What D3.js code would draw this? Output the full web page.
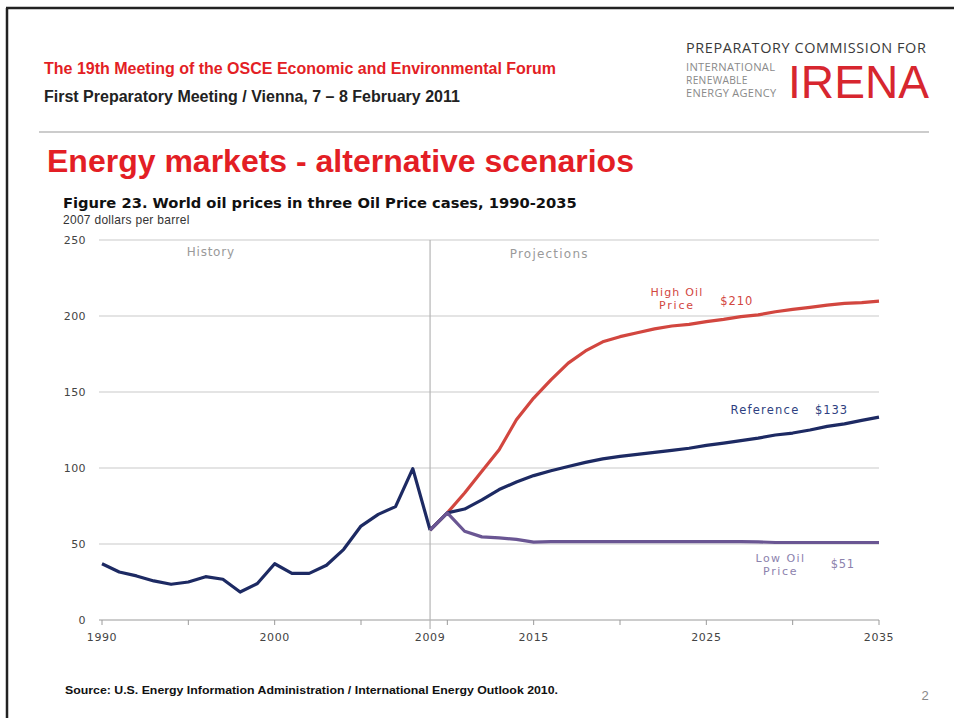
<!DOCTYPE html>
<html><head><meta charset="utf-8">
<script src="https://cdn.jsdelivr.net/npm/d3@7"></script>
<style>
html,body{margin:0;padding:0;background:#fff;}
svg{display:block;}
</style></head>
<body>
<script>
// ---------- data ----------
const historyYears = [1990,1991,1992,1993,1994,1995,1996,1997,1998,1999,2000,2001,2002,2003,2004,2005,2006,2007,2008,2009];
const historyValues = [37,31.6,29,25.7,23.5,25,28.5,26.8,18.4,24,37,30.7,30.7,36,46.5,61.8,69.5,74.6,99.6,59.2];
const projectionYears = [2009,2010,2011,2012,2013,2014,2015,2016,2017,2018,2019,2020,2021,2022,2023,2024,2025,2026,2027,2028,2029,2030,2031,2032,2033,2034,2035];
const highValues = [59.2,70.5,83.6,97.8,112,131.7,146,158,169,177,183,186.4,189,191.5,193.4,194.5,196.3,197.8,199.6,200.7,202.8,204.4,205.7,207.2,208.3,208.8,209.8];
const referenceValues = [59.2,70.5,73,79,85.8,90.8,95,98.2,101,103.7,106,107.7,109,110.3,111.6,113,114.9,116.4,118,119.7,121.7,123,125,127.4,129,131.3,133.5];
const lowValues = [59.2,70.5,58.4,54.7,54,53,51.2,51.6,51.6,51.6,51.6,51.6,51.6,51.6,51.6,51.6,51.6,51.6,51.6,51.4,51,51,51,51,51,51,51];
const yTicks = [0,50,100,150,200,250];
const xTickYears = [1990,1995,2000,2005,2010,2015,2020,2025,2030,2035];
const xLabelYears = [1990,2000,2009,2015,2025,2035];

const W = 954, H = 718;
const svg = d3.select("body").append("svg").attr("width", W).attr("height", H);

function fit(sel, width) {
  const node = sel.node();
  const fs = parseFloat(sel.attr("font-size"));
  const len = node.getComputedTextLength();
  if (len > 0) sel.attr("font-size", (fs * width / len).toFixed(2));
  return sel;
}
function fitSpacing(sel, width) {
  sel.attr("letter-spacing", 0);
  const len = sel.node().getComputedTextLength();
  const n = sel.text().length;
  if (len > 0 && n > 1) sel.attr("letter-spacing", ((width - len) / n).toFixed(2));
  return sel;
}

// ---------- page frame ----------
svg.append("line").attr("x1", 6).attr("x2", W).attr("y1", 8).attr("y2", 8).attr("stroke", "#222").attr("stroke-width", 2.5);
svg.append("line").attr("x1", 7).attr("x2", 7).attr("y1", 8).attr("y2", H).attr("stroke", "#222").attr("stroke-width", 2.5);

// header
fit(svg.append("text").attr("x", 44).attr("y", 74).attr("font-family", "Liberation Sans, Arial, sans-serif")
  .attr("font-weight", "bold").attr("font-size", 13).attr("fill", "#e31e25")
  .text("The 19th Meeting of the OSCE Economic and Environmental Forum"), 512);
fit(svg.append("text").attr("x", 44).attr("y", 102).attr("font-family", "Liberation Sans, Arial, sans-serif")
  .attr("font-weight", "bold").attr("font-size", 13).attr("fill", "#222")
  .text("First Preparatory Meeting / Vienna, 7 \u2013 8 February 2011"), 416);

// logo
fit(svg.append("text").attr("x", 686).attr("y", 53).attr("font-family", "Open Sans, sans-serif")
  .attr("font-size", 12.5).attr("fill", "#3a3a3a").attr("letter-spacing", 0.6)
  .text("PREPARATORY COMMISSION FOR"), 243);
[["INTERNATIONAL", 70.5, 90], ["RENEWABLE", 83.5, 62], ["ENERGY AGENCY", 97, 91]].forEach(([t, y, w]) => {
  fit(svg.append("text").attr("x", 686).attr("y", y).attr("font-family", "Open Sans, sans-serif")
    .attr("font-size", 9.5).attr("fill", "#8a8a8a").attr("letter-spacing", 0.3).text(t), w);
});
fit(svg.append("text").attr("x", 788).attr("y", 98).attr("font-family", "Liberation Sans, Arial, sans-serif")
  .attr("font-size", 48).attr("fill", "#d7262f").text("IRENA"), 141);

// rule
svg.append("line").attr("x1", 39).attr("x2", 929).attr("y1", 132).attr("y2", 132).attr("stroke", "#999").attr("stroke-width", 1.2);

// big title
fit(svg.append("text").attr("x", 47).attr("y", 172).attr("font-family", "Liberation Sans, Arial, sans-serif")
  .attr("font-weight", "bold").attr("font-size", 28).attr("fill", "#e31e25")
  .text("Energy markets - alternative scenarios"), 587);

// figure title
fit(svg.append("text").attr("x", 63).attr("y", 208).attr("font-family", "DejaVu Sans, sans-serif")
  .attr("font-weight", "bold").attr("font-size", 12).attr("fill", "#111")
  .text("Figure 23. World oil prices in three Oil Price cases, 1990-2035"), 514);
fit(svg.append("text").attr("x", 63).attr("y", 224).attr("font-family", "Liberation Sans, Arial, sans-serif")
  .attr("font-size", 10).attr("fill", "#333").attr("letter-spacing", 0.3)
  .text("2007 dollars per barrel"), 128);

// ---------- chart ----------
const x = d3.scaleLinear().domain([1990, 2035]).range([102, 879]);
const y = d3.scaleLinear().domain([0, 250]).range([620, 240]);

const g = svg.append("g");
const axisFont = "DejaVu Sans, Verdana, sans-serif";

// gridlines
g.selectAll(".grid").data(yTicks.filter(d => d > 0)).enter().append("line")
  .attr("x1", 99).attr("x2", 879).attr("y1", d => y(d)).attr("y2", d => y(d))
  .attr("stroke", "#c9c9c9").attr("stroke-width", 1);

// x axis line
g.append("line").attr("x1", 99).attr("x2", 879).attr("y1", y(0)).attr("y2", y(0)).attr("stroke", "#9a9a9a").attr("stroke-width", 1);

// y labels
g.selectAll(".ylab").data(yTicks).enter().append("text")
  .attr("x", 86).attr("y", d => y(d) + 4).attr("text-anchor", "end")
  .attr("font-family", axisFont).attr("font-size", 11).attr("letter-spacing", 0.4).attr("fill", "#444")
  .text(d => d);

// x ticks
g.selectAll(".xt").data(xTickYears).enter().append("line")
  .attr("x1", d => x(d)).attr("x2", d => x(d)).attr("y1", y(0)).attr("y2", y(0) + 5)
  .attr("stroke", "#9a9a9a").attr("stroke-width", 1);

// x labels
g.selectAll(".xlab").data(xLabelYears).enter().append("text")
  .attr("x", d => x(d)).attr("y", 641).attr("text-anchor", "middle")
  .attr("font-family", axisFont).attr("font-size", 11).attr("letter-spacing", 0.6).attr("fill", "#444")
  .text(d => d);

// divider at 2009
g.append("line").attr("x1", x(2009)).attr("x2", x(2009)).attr("y1", y(250)).attr("y2", y(0) + 9)
  .attr("stroke", "#b5b5b5").attr("stroke-width", 1.2);

// labels (fixed font-size, spacing fitted to width)
const lab = (tx, ty, t, col, w, anchor, fs) => fitSpacing(g.append("text").attr("x", tx).attr("y", ty)
  .attr("text-anchor", anchor || "middle").attr("font-family", axisFont).attr("font-size", fs || 11.5)
  .attr("fill", col).text(t), w);
lab(x(1996.3), 256, "History", "#9a9a9a", 48, "middle", 12);
lab(x(2015.9), 258, "Projections", "#9a9a9a", 79, "middle", 12);

// lines
const line = d3.line().x(d => x(d[0])).y(d => y(d[1])).curve(d3.curveLinear);
function series(years, vals) { return years.map((yr, i) => [yr, vals[i]]); }

g.append("path").attr("d", line(series(historyYears, historyValues)))
  .attr("fill", "none").attr("stroke", "#1d2a63").attr("stroke-width", 3.2).attr("stroke-linejoin", "round");
g.append("path").attr("d", line(series(projectionYears, highValues)))
  .attr("fill", "none").attr("stroke", "#d2463f").attr("stroke-width", 3.2).attr("stroke-linejoin", "round");
g.append("path").attr("d", line(series(projectionYears, referenceValues)))
  .attr("fill", "none").attr("stroke", "#1d2a63").attr("stroke-width", 3.2).attr("stroke-linejoin", "round");
g.append("path").attr("d", line(series(projectionYears, lowValues)))
  .attr("fill", "none").attr("stroke", "#6a5693").attr("stroke-width", 3.2).attr("stroke-linejoin", "round");

// series labels
lab(x(2023.3), y(213), "High Oil", "#d2463f", 53, "middle", 11);
lab(x(2023.3), y(204.4), "Price", "#d2463f", 36, "middle", 11);
lab(x(2025.8), y(207.5), "$210", "#d2463f", 33, "start");
lab(x(2026.4), y(135.5), "Reference", "#2e3f80", 69, "start");
lab(x(2031.3), y(135.5), "$133", "#2e3f80", 33, "start");
lab(x(2029.3), y(38), "Low Oil", "#8c82ad", 50, "middle", 11);
lab(x(2029.3), y(29.4), "Price", "#8c82ad", 35, "middle", 11);
lab(x(2032.2), y(34.5), "$51", "#8c82ad", 24, "start");

// source + page number
svg.append("text").attr("x", 65).attr("y", 694).attr("font-family", "Liberation Sans, Arial, sans-serif")
  .attr("font-weight", "bold").attr("font-size", 11).attr("fill", "#111")
  .attr("textLength", 493).attr("lengthAdjust", "spacingAndGlyphs")
  .text("Source: U.S. Energy Information Administration / International Energy Outlook 2010.");
svg.append("text").attr("x", 925).attr("y", 700).attr("text-anchor", "middle")
  .attr("font-family", "Liberation Sans Narrow, Liberation Sans, sans-serif").attr("font-size", 13).attr("fill", "#888").text("2");
</script>
</body></html>
